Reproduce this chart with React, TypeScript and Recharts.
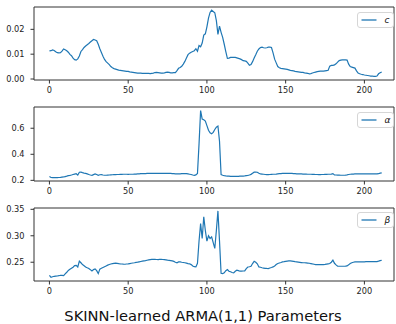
import React from 'react';
import {
  LineChart,
  Line,
  XAxis,
  YAxis,
  Legend,
  ReferenceArea,
} from 'recharts';

// learned parameter values per step (0..211)
const cValues = [
  0.0113, 0.0114, 0.0117, 0.0115, 0.011, 0.0106, 0.0105, 0.0106, 0.0112, 0.0121,
  0.0118, 0.0114, 0.0108, 0.0099, 0.0094, 0.0084, 0.0078, 0.0076, 0.0081, 0.0093,
  0.0111, 0.0118, 0.0127, 0.0133, 0.0138, 0.0143, 0.0149, 0.0154, 0.0159, 0.0157,
  0.0154, 0.014, 0.0122, 0.0107, 0.0092, 0.0079, 0.007, 0.0064, 0.0058, 0.005,
  0.0045, 0.0042, 0.004, 0.0038, 0.0036, 0.0035, 0.0034, 0.0033, 0.0032, 0.0031,
  0.0031, 0.0029, 0.0028, 0.0027, 0.0026, 0.0025, 0.0024, 0.0024, 0.0024, 0.0023,
  0.0023, 0.0023, 0.0023, 0.0023, 0.0022, 0.0023, 0.0024, 0.0026, 0.0027, 0.0026,
  0.0025, 0.0024, 0.0024, 0.0025, 0.0027, 0.0028, 0.0027, 0.0025, 0.0025, 0.0026,
  0.0026, 0.0034, 0.0043, 0.0046, 0.0051, 0.006, 0.0071, 0.0085, 0.0098, 0.0104,
  0.0108, 0.0111, 0.0114, 0.0122, 0.0112, 0.0135, 0.013, 0.0145, 0.0177, 0.0182,
  0.021, 0.0245, 0.0268, 0.0277, 0.0272, 0.0267, 0.0235, 0.018, 0.0213, 0.0188,
  0.0168, 0.014, 0.011, 0.0083, 0.0084, 0.0087, 0.0087, 0.0087, 0.0087, 0.0085,
  0.0083, 0.0081, 0.0078, 0.0074, 0.0073, 0.0071, 0.0064, 0.0055, 0.0058, 0.007,
  0.0085, 0.0098, 0.0112, 0.0121, 0.0127, 0.0128, 0.0126, 0.0125, 0.0126, 0.0128,
  0.0128, 0.0127, 0.0105, 0.008, 0.0065, 0.005, 0.0045, 0.0043, 0.0042, 0.0041,
  0.004, 0.0039, 0.0037, 0.0035, 0.0034, 0.0033, 0.0031, 0.003, 0.0029, 0.0028,
  0.0027, 0.0027, 0.0025, 0.0024, 0.0023, 0.0021, 0.0022, 0.0024, 0.0026, 0.0028,
  0.003, 0.0031, 0.0032, 0.0032, 0.0032, 0.0033, 0.0034, 0.0035, 0.0052, 0.0055,
  0.0055, 0.0057, 0.0061, 0.0068, 0.0074, 0.0076, 0.0077, 0.0077, 0.0077, 0.0076,
  0.006, 0.005, 0.0048, 0.0046, 0.0044, 0.0033, 0.0024, 0.0021, 0.0019, 0.0018,
  0.0016, 0.0015, 0.0014, 0.0013, 0.0012, 0.0012, 0.0011, 0.0011, 0.0012, 0.0021,
  0.0025, 0.0028,
];

const alphaValues = [
  0.229, 0.222, 0.221, 0.222, 0.221, 0.221, 0.222, 0.223, 0.225, 0.226,
  0.229, 0.232, 0.236, 0.238, 0.241, 0.245, 0.248, 0.251, 0.24, 0.262,
  0.263, 0.259, 0.256, 0.254, 0.25, 0.245, 0.241, 0.239, 0.244, 0.249,
  0.245, 0.239, 0.243, 0.244, 0.241, 0.239, 0.239, 0.24, 0.241, 0.242,
  0.243, 0.244, 0.244, 0.245, 0.245, 0.246, 0.246, 0.247, 0.247, 0.247,
  0.246, 0.247, 0.247, 0.247, 0.248, 0.248, 0.249, 0.25, 0.251, 0.251,
  0.252, 0.252, 0.253, 0.253, 0.254, 0.254, 0.254, 0.254, 0.254, 0.254,
  0.254, 0.254, 0.254, 0.254, 0.254, 0.254, 0.253, 0.253, 0.252, 0.251,
  0.25, 0.249, 0.249, 0.25, 0.251, 0.252, 0.252, 0.251, 0.249, 0.247,
  0.245, 0.241, 0.239, 0.242, 0.252, 0.48, 0.735, 0.67, 0.665, 0.655,
  0.62, 0.585, 0.565, 0.558, 0.568, 0.59, 0.608, 0.617, 0.5, 0.244,
  0.239, 0.236, 0.234, 0.233, 0.232, 0.231, 0.231, 0.231, 0.231, 0.231,
  0.231, 0.232, 0.232, 0.233, 0.234, 0.236, 0.238, 0.241, 0.246, 0.255,
  0.263, 0.264, 0.262, 0.254, 0.249, 0.248, 0.247, 0.245, 0.244, 0.244,
  0.245, 0.246, 0.247, 0.247, 0.248, 0.25, 0.251, 0.252, 0.253, 0.253,
  0.254, 0.254, 0.254, 0.254, 0.253, 0.252, 0.251, 0.25, 0.25, 0.249,
  0.249, 0.248, 0.248, 0.248, 0.247, 0.247, 0.247, 0.246, 0.246, 0.245,
  0.245, 0.244, 0.244, 0.245, 0.245, 0.246, 0.246, 0.247, 0.247, 0.248,
  0.252, 0.242, 0.241, 0.24, 0.24, 0.239, 0.239, 0.239, 0.24, 0.242,
  0.245, 0.247, 0.248, 0.248, 0.249, 0.249, 0.249, 0.25, 0.25, 0.25,
  0.249, 0.249, 0.249, 0.249, 0.249, 0.249, 0.25, 0.25, 0.249, 0.251,
  0.255, 0.257,
];

const betaValues = [
  0.2253, 0.2215, 0.2225, 0.2234, 0.2238, 0.224, 0.2245, 0.2253, 0.225, 0.2247,
  0.228, 0.231, 0.2345, 0.2365, 0.2385, 0.2405, 0.2435, 0.244, 0.241, 0.2519,
  0.249, 0.2456, 0.2435, 0.2411, 0.2395, 0.238, 0.236, 0.2335, 0.236, 0.2373,
  0.234, 0.2285, 0.237, 0.2385, 0.24, 0.2415, 0.243, 0.2445, 0.2458, 0.2467,
  0.2473, 0.2478, 0.2481, 0.2478, 0.2472, 0.2468, 0.2466, 0.2463, 0.2462, 0.2466,
  0.247, 0.2475, 0.248, 0.2485, 0.249, 0.2497, 0.2502, 0.2508, 0.2514, 0.252,
  0.2525, 0.253, 0.2538, 0.2545, 0.255, 0.2552, 0.2553, 0.2552, 0.2551, 0.255,
  0.2552, 0.2553, 0.2551, 0.255, 0.2546, 0.254, 0.2535, 0.253, 0.2524, 0.2515,
  0.25, 0.249, 0.2505, 0.2506, 0.25, 0.2495, 0.249, 0.2483, 0.2475, 0.247,
  0.2455, 0.243, 0.2415, 0.2411, 0.248, 0.29, 0.323, 0.295, 0.336, 0.31,
  0.29, 0.3, 0.295, 0.298, 0.287, 0.276, 0.31, 0.347, 0.29, 0.229,
  0.2285, 0.23, 0.234, 0.236, 0.233, 0.232, 0.2305, 0.23, 0.233, 0.2348,
  0.234, 0.233, 0.2332, 0.2334, 0.2335, 0.238, 0.241, 0.2415, 0.2424, 0.2475,
  0.2519, 0.25, 0.247, 0.2411, 0.2405, 0.2395, 0.239, 0.2385, 0.2382, 0.238,
  0.239, 0.24, 0.2411, 0.243, 0.2455, 0.2475, 0.2485, 0.2495, 0.2506, 0.251,
  0.2515, 0.252, 0.2525, 0.2525, 0.252, 0.2515, 0.251, 0.2506, 0.2502, 0.2498,
  0.2494, 0.249, 0.249, 0.2487, 0.2484, 0.2481, 0.2475, 0.2468, 0.2462, 0.2456,
  0.2456, 0.2456, 0.2456, 0.2456, 0.2456, 0.246, 0.2465, 0.247, 0.2475, 0.25,
  0.2538, 0.248, 0.245, 0.2424, 0.2424, 0.2424, 0.2424, 0.2424, 0.2426, 0.243,
  0.245, 0.2475, 0.249, 0.25, 0.2505, 0.2506, 0.2506, 0.2506, 0.2506, 0.2506,
  0.2508, 0.251, 0.2512, 0.2513, 0.2513, 0.2513, 0.2513, 0.2513, 0.2513, 0.252,
  0.253, 0.2538,
];

const xTicks = [0, 50, 100, 150, 200];
const cTicks = [0, 0.01, 0.02];
const alphaTicks = [0.2, 0.4, 0.6];
const betaTicks = [0.25, 0.3, 0.35];
const title = 'SKINN-learned ARMA(1,1) Parameters';

const data = cValues.map((v, i) => ({
  step: i,
  c: v,
  alpha: alphaValues[i],
  beta: betaValues[i],
}));

const BLUE = '#1f77b4';
const FONT = '"DejaVu Sans", sans-serif';
const X_DOMAIN: [number, number] = [-9.8, 218.8];

const LegendBox = ({ label }: { label: string }) => (
  <div
    style={{
      width: 37,
      height: 16,
      boxSizing: 'border-box',
      border: '1px solid #d6d6d6',
      borderRadius: 3,
      background: 'rgba(255,255,255,0.85)',
      position: 'relative',
    }}
  >
    <svg width={20} height={14} style={{ position: 'absolute', left: 2, top: 0 }}>
      <line x1={1.5} x2={16.5} y1={7} y2={7} stroke={BLUE} strokeWidth={1.3} />
    </svg>
    <span
      style={{
        position: 'absolute',
        left: 27,
        top: 1,
        fontFamily: FONT,
        fontStyle: 'italic',
        fontSize: 9,
        lineHeight: '12px',
        color: '#111',
      }}
    >
      {label}
    </span>
  </div>
);

interface PanelProps {
  top: number;
  marginTop: number;
  height: number;
  dataKey: string;
  domain: [number, number];
  ticks: number[];
  digits: number;
  label: string;
}

const Panel = ({ top, marginTop, height, dataKey, domain, ticks, digits, label }: PanelProps) => (
  <div style={{ position: 'absolute', left: 0, top }}>
    <LineChart
      width={396}
      height={height}
      data={data}
      margin={{ top: marginTop, right: 2, bottom: 0, left: 0 }}
    >
      <XAxis
        dataKey="step"
        type="number"
        domain={X_DOMAIN}
        allowDataOverflow
        ticks={xTicks}
        height={20}
        tickSize={3.5}
        tickMargin={4}
        axisLine={false}
        tickLine={{ stroke: '#333' }}
        tick={{ fill: '#222', fontSize: 8.2, fontFamily: FONT }}
      />
      <YAxis
        type="number"
        domain={domain}
        allowDataOverflow
        ticks={ticks}
        width={34}
        tickSize={3.5}
        tickMargin={6}
        axisLine={false}
        tickLine={{ stroke: '#333' }}
        tick={{ fill: '#222', fontSize: 8.2, fontFamily: FONT }}
        tickFormatter={(v: number) => v.toFixed(digits)}
      />
      <ReferenceArea
        x1={X_DOMAIN[0]}
        x2={X_DOMAIN[1]}
        y1={domain[0]}
        y2={domain[1]}
        fill="none"
        stroke="#333"
        strokeWidth={1}
        ifOverflow="visible"
      />
      <Line
        type="linear"
        dataKey={dataKey}
        stroke={BLUE}
        strokeWidth={1.2}
        dot={false}
        isAnimationActive={false}
      />
      <Legend
        layout="vertical"
        align="center"
        verticalAlign="middle"
        wrapperStyle={{ left: 356.5, top: 12.3, width: 37, height: 16 }}
        content={() => <LegendBox label={label} />}
      />
    </LineChart>
  </div>
);

export default function App() {
  return (
    <div
      style={{
        position: 'absolute',
        left: 0,
        top: 0,
        width: 396,
        height: 324,
        background: '#fff',
        overflow: 'hidden',
      }}
    >
      <Panel top={0} marginTop={7} height={100} dataKey="c" domain={[-0.0004, 0.029]} ticks={cTicks} digits={2} label="c" />
      <Panel top={100} marginTop={7} height={101} dataKey="alpha" domain={[0.195, 0.763]} ticks={alphaTicks} digits={1} label="α" />
      <Panel top={200} marginTop={8} height={101} dataKey="beta" domain={[0.2145, 0.3525]} ticks={betaTicks} digits={2} label="β" />
      <div
        style={{
          position: 'absolute',
          left: 203,
          top: 306.5,
          transform: 'translateX(-50%)',
          whiteSpace: 'nowrap',
          fontFamily: FONT,
          fontSize: 14.7,
          lineHeight: '17px',
          color: '#111',
        }}
      >
        {title}
      </div>
    </div>
  );
}
